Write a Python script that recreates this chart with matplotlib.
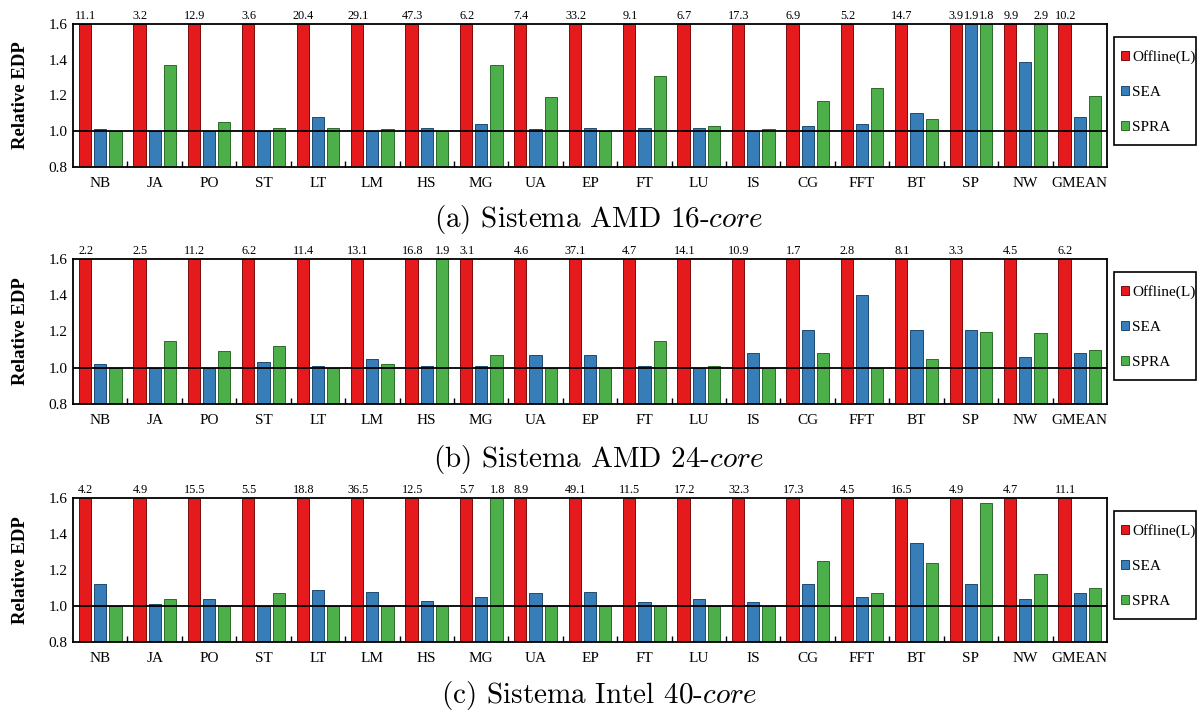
import matplotlib
matplotlib.use("Agg")
import matplotlib.pyplot as plt
from matplotlib.patches import Rectangle
import numpy as np

plt.rcParams["font.family"] = ["Liberation Serif", "DejaVu Serif"]
plt.rcParams["mathtext.fontset"] = "cm"

benchmarks = ["NB", "JA", "PO", "ST", "LT", "LM", "HS", "MG", "UA", "EP",
              "FT", "LU", "IS", "CG", "FFT", "BT", "SP", "NW", "GMEAN"]
series_names = ["Offline(L)", "SEA", "SPRA"]

# (a) AMD 16-core
a_offline = [11.1, 3.2, 12.9, 3.6, 20.4, 29.1, 47.3, 6.2, 7.4, 33.2,
             9.1, 6.7, 17.3, 6.9, 5.2, 14.7, 3.9, 9.9, 10.2]
a_sea = [1.01, 1.00, 1.00, 1.00, 1.08, 1.00, 1.02, 1.04, 1.01, 1.02,
         1.02, 1.02, 1.00, 1.03, 1.04, 1.10, 1.9, 1.39, 1.08]
a_spra = [1.00, 1.37, 1.05, 1.02, 1.02, 1.01, 1.00, 1.37, 1.19, 1.00,
          1.31, 1.03, 1.01, 1.17, 1.24, 1.07, 1.8, 2.9, 1.20]

# (b) AMD 24-core
b_offline = [2.2, 2.5, 11.2, 6.2, 11.4, 13.1, 16.8, 3.1, 4.6, 37.1,
             4.7, 14.1, 10.9, 1.7, 2.8, 8.1, 3.3, 4.5, 6.2]
b_sea = [1.02, 1.00, 1.00, 1.03, 1.01, 1.05, 1.01, 1.01, 1.07, 1.07,
         1.01, 1.00, 1.08, 1.21, 1.40, 1.21, 1.21, 1.06, 1.08]
b_spra = [1.00, 1.15, 1.09, 1.12, 1.00, 1.02, 1.9, 1.07, 1.00, 1.00,
          1.15, 1.01, 1.00, 1.08, 1.00, 1.05, 1.20, 1.19, 1.10]

# (c) Intel 40-core
c_offline = [4.2, 4.9, 15.5, 5.5, 18.8, 36.5, 12.5, 5.7, 8.9, 49.1,
             11.5, 17.2, 32.3, 17.3, 4.5, 16.5, 4.9, 4.7, 11.1]
c_sea = [1.12, 1.01, 1.04, 1.00, 1.09, 1.08, 1.03, 1.05, 1.07, 1.08,
         1.02, 1.04, 1.02, 1.12, 1.05, 1.35, 1.12, 1.04, 1.07]
c_spra = [1.00, 1.04, 1.00, 1.07, 1.00, 1.00, 1.00, 1.8, 1.00, 1.00,
          1.00, 1.00, 1.00, 1.25, 1.07, 1.24, 1.57, 1.18, 1.10]

captions = ["(a) Sistema AMD 16-", "(b) Sistema AMD 24-", "(c) Sistema Intel 40-"]

colors = ["#e41a1c", "#377eb8", "#4daf4a"]
edges = ["#7a0c0d", "#1f4a70", "#2c6b2a"]

panels = [
    (a_offline, a_sea, a_spra),
    (b_offline, b_sea, b_spra),
    (c_offline, c_sea, c_spra),
]

W, H = 1198, 713
fig = plt.figure(figsize=(W / 100, H / 100), dpi=100)

ax_left, ax_right = 73, 1107
ax_tops = [24, 259, 498]
ax_bottoms = [167, 404, 642]
caption_y = [219, 459, 696]

ymax = 1.6
x = np.arange(len(benchmarks))
offsets = [-0.28, 0.0, 0.28]
width = 0.225

for series, top, bot, cy, cap in zip(panels, ax_tops, ax_bottoms, caption_y, captions):
    ax = fig.add_axes([ax_left / W, 1 - bot / H, (ax_right - ax_left) / W, (bot - top) / H])
    for k, vals in enumerate(series):
        vals = np.array(vals)
        ax.bar(x + offsets[k], np.minimum(vals, ymax) - 0.8, width, bottom=0.8,
               color=colors[k], edgecolor=edges[k], linewidth=0.7,
               label=series_names[k], zorder=2)
        # values beyond the axis are written above the clipped bar
        for xi, v in zip(x + offsets[k], vals):
            if v > ymax:
                ax.annotate(f"{v:.1f}", (xi, ymax), xytext=(0.5, 1.5),
                            textcoords="offset points", ha="center", va="bottom",
                            fontsize=8.8, annotation_clip=False)
    ax.axhline(1.0, color="black", linewidth=1.3, zorder=3)
    ax.set_xlim(-0.5, len(benchmarks) - 0.5)
    ax.set_ylim(0.8, ymax)
    ax.set_yticks([0.8, 1.0, 1.2, 1.4, 1.6])
    ax.set_yticklabels(["0.8", "1.0", "1.2", "1.4", "1.6"], fontsize=11)
    ax.set_xticks(x)
    ax.set_xticklabels(benchmarks, fontsize=11)
    ax.set_xticks(x[:-1] + 0.5, minor=True)
    ax.tick_params(axis="x", which="major", length=0, pad=7)
    ax.tick_params(axis="x", which="minor", direction="in", length=4, width=1)
    ax.tick_params(axis="y", direction="in", length=0, pad=4)
    for s in ax.spines.values():
        s.set_linewidth(1.3)
    ax.set_ylabel("Relative EDP", fontsize=13.5, fontweight="bold")
    ax.yaxis.set_label_coords(-0.043, 0.5)

    # legend entries without frame, box drawn separately to match the padding
    ax.legend(loc="upper left", bbox_to_anchor=(1121 / W, 1 - (top + 26) / H),
              bbox_transform=fig.transFigure, fontsize=11, frameon=False,
              labelspacing=1.45, handlelength=0.55, handleheight=0.55,
              handletextpad=0.2, borderpad=0, borderaxespad=0)
    fig.patches.append(Rectangle((1114 / W, 1 - (top + 121) / H), 82 / W, 108 / H,
                                 transform=fig.transFigure, fill=False,
                                 edgecolor="black", linewidth=1.2))

    fig.text(0.5, 1 - cy / H, cap + r"$\mathit{core}$", ha="center", va="center",
             fontsize=21, fontfamily="cmr10")

fig.savefig("out.png", dpi=100)
